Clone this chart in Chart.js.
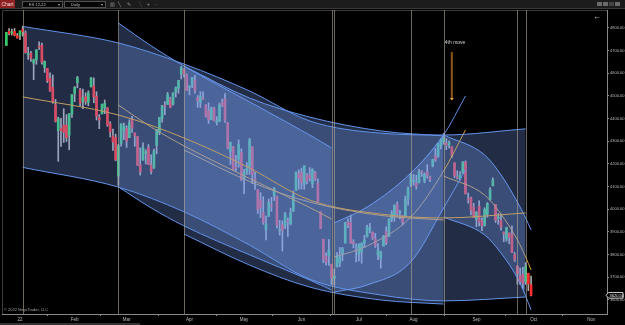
<!DOCTYPE html>
<html><head><meta charset="utf-8">
<script src="https://cdn.jsdelivr.net/npm/chart.js@4.4.0/dist/chart.umd.min.js"></script>
<style>
html,body{margin:0;padding:0;background:#000;width:625px;height:325px;overflow:hidden;font-family:"Liberation Sans","DejaVu Sans",Arial,sans-serif;}
#c{position:absolute;left:0;top:0;}
#tb{position:absolute;left:0;top:0;width:625px;height:9px;background:#1c1c1c;border-bottom:1px solid #3a3a3a;box-sizing:border-box;}
.tab{position:absolute;left:0;top:0;width:15px;height:8px;background:#8e2024;color:#f2d6d6;font-size:5px;line-height:8px;text-align:center;}
.dd{position:absolute;top:1px;height:5px;background:#060606;border:1px solid #505050;color:#b8b8b8;font-size:4px;line-height:5px;padding-left:6px;box-sizing:content-box;}
.dd .car{position:absolute;right:2px;top:0;font-size:4px;color:#aaa;}
.ic{position:absolute;top:1px;font-size:5px;line-height:6px;color:#9a9a9a;}
.wb{position:absolute;top:2px;width:5px;height:4px;background:#6a6a6a;}
#back{position:absolute;left:593px;top:13px;color:#e6e6e6;font-size:8px;line-height:8px;}
#scr{position:absolute;left:0;top:323px;width:140px;height:2px;background:#333;}
</style></head>
<body>
<canvas id="c" width="625" height="325"></canvas>
<div id="tb">
  <div class="tab">Chart</div>
  <div class="dd" style="left:22px;width:33px">ES 12-22<span class="car">▾</span></div>
  <div class="dd" style="left:64px;width:34px">Daily<span class="car">▾</span></div>
  <span class="ic" style="left:110px">▥</span>
  <span class="ic" style="left:118px">╲</span>
  <span class="ic" style="left:127px">✎</span>
  <span class="ic" style="left:139px;color:#555">╲</span>
  <span class="ic" style="left:147px">+</span>
  <span class="ic" style="left:155px;color:#555">–</span>
  <div class="wb" style="left:597px"></div>
  <div class="wb" style="left:603px"></div>
  <div class="wb" style="left:609px;background:#444"></div>
  <div class="wb" style="left:615px"></div>
</div>
<div id="back">←</div>
<div id="scr"></div>
<script>
// ---------- DATA ----------
// trading-day index: 0 = 3 Jan 2022 (first candle 27 Dec 2021 = -5)
const opens  = [4723,4785,4778,4785,4766,
 4768,4794,4777,4683,4688,4645,4660,4718,4724,4627,4622,4578,4538,4461,4347,4356,4371,4371,4327,4421,
 4511,4559,4527,4474,4497,4472,4540,4545,4499,4404,4421,4447,4448,4377,4324,4317,4147,4290,4346,
 4358,4316,4395,4337,4321,4196,4217,4247,4273,4196,4182,4282,4339,4401,4456,4463,4488,4464,4517,4535,4596,4618,4594,
 4538,4545,4571,4493,4472,4492,4460,4435,4396,4447,4383,4388,4471,4488,4383,4253,4277,4185,4221,4251,
 4137,4165,4187,4276,4135,4087,4042,3986,3910,3969,4019,4059,4058,3906,3933,3926,3948,3936,3991,4083,4158,
 4164,4111,4152,4150,4111,4163,4116,3989,3868,3793,3795,3758,3695,3746,3763,3805,3851,3943,3943,3856,3816,
 3801,3812,3851,3878,3909,3900,3871,3799,3784,3838,3903,3881,3956,3975,4022,3986,3973,3971,4047,4108,
 4123,4115,4117,4165,4125,4166,4143,4191,4237,4235,4280,4300,4291,4284,4276,4205,4143,4136,4163,4208,4044,4051,4010,
 3956,4014,3950,3929,3979,4042,4104,4022,3961,3952,3900,3869,3896,3891,3802,3750,3707,3713,3680,3718,3667];
const highs  = [4781,4797,4795,4798,4776,
 4788,4808,4787,4715,4697,4663,4705,4739,4734,4655,4622,4602,4593,4485,4407,4401,4444,4418,4422,4506,
 4542,4587,4534,4531,4514,4523,4582,4580,4519,4418,4464,4482,4449,4387,4354,4332,4287,4377,4380,
 4369,4395,4410,4337,4321,4271,4293,4263,4286,4241,4266,4352,4406,4459,4475,4516,4495,4514,4540,4569,4631,4621,4598,
 4545,4581,4591,4502,4519,4518,4462,4470,4451,4451,4409,4469,4487,4511,4384,4297,4277,4238,4306,4267,
 4176,4206,4313,4276,4164,4087,4074,4056,3970,4045,4053,4096,4058,3952,3949,3987,3961,4005,4081,4164,4175,
 4182,4192,4158,4184,4179,4168,4134,3989,3868,3808,3867,3758,3737,3809,3832,3832,3943,3958,3975,3866,3848,
 3849,3852,3885,3930,3938,3900,3894,3849,3816,3884,3923,3958,3995,4019,4033,3996,3973,4059,4099,4160,
 4154,4150,4177,4171,4161,4197,4147,4221,4268,4290,4311,4335,4312,4302,4276,4205,4170,4166,4210,4214,4072,4054,4026,
 3990,4038,3962,4007,4030,4096,4139,4022,3981,3979,3900,3921,3896,3927,3810,3750,3741,3744,3765,3718,3705];
const lows   = [4723,4770,4769,4765,4755,
 4748,4764,4689,4661,4653,4572,4640,4706,4640,4604,4559,4520,4468,4385,4212,4277,4295,4299,4263,4405,
 4475,4536,4457,4444,4463,4457,4540,4470,4394,4356,4421,4422,4366,4319,4260,4214,4106,4279,4307,
 4273,4316,4339,4278,4193,4151,4217,4200,4197,4156,4181,4245,4329,4384,4418,4463,4449,4459,4495,4512,4575,4583,4524,
 4505,4537,4512,4450,4449,4485,4407,4379,4395,4390,4372,4388,4453,4383,4266,4198,4173,4168,4186,4126,
 4069,4154,4154,4113,4088,3982,3964,3934,3865,3969,3991,4039,3918,3886,3816,3915,3881,3931,3991,4083,4089,
 4089,4089,4112,4124,4095,4126,4032,3915,3765,3754,3753,3669,3666,3746,3747,3773,3851,3919,3850,3830,3768,
 3772,3762,3832,3878,3896,3867,3832,3778,3741,3838,3844,3881,3945,3947,3967,3958,3931,3971,4018,4100,
 4106,4089,4117,4145,4117,4138,4122,4187,4211,4229,4266,4287,4263,4271,4228,4139,4133,4129,4157,4068,4027,3975,3964,
 3923,3927,3906,3926,3965,4042,4103,3942,3934,3908,3857,3859,3848,3809,3770,3670,3669,3650,3669,3641,3618];
const closes = [4781,4776,4783,4768,4756,
 4787,4784,4691,4686,4667,4660,4703,4716,4649,4653,4567,4523,4473,4388,4400,4347,4340,4316,4422,4506,
 4538,4581,4469,4493,4476,4514,4579,4496,4411,4394,4464,4467,4372,4341,4297,4218,4281,4377,4366,
 4300,4381,4358,4323,4195,4165,4272,4254,4198,4167,4256,4352,4406,4457,4455,4506,4450,4514,4537,4569,4626,4596,4524,
 4544,4581,4523,4479,4498,4486,4411,4395,4445,4391,4390,4461,4458,4392,4270,4295,4173,4182,4286,4130,
 4161,4181,4307,4153,4129,3997,4007,3941,3936,4030,4014,4094,3929,3907,3907,3980,3947,3985,4064,4164,4138,
 4116,4192,4124,4136,4176,4131,4033,3916,3780,3765,3820,3697,3705,3795,3790,3826,3942,3930,3851,3849,3815,
 3845,3851,3865,3923,3919,3874,3839,3821,3811,3883,3851,3957,3980,4019,3982,3987,3941,4044,4093,4150,
 4129,4101,4165,4162,4155,4150,4132,4220,4217,4290,4307,4315,4284,4294,4238,4148,4138,4151,4209,4068,4041,3996,3965,
 3987,3944,3928,4000,4026,4087,4130,3952,3966,3921,3893,3920,3876,3810,3778,3716,3680,3674,3748,3671,3620.5];
const firstDayIdx = -5;

// month ticks on the time axis
const monthTickIdx    = [0, 20, 39, 62, 82, 103, 124, 144, 167, 188, 209];
const monthTickLabels = ['22','Feb','Mar','Apr','May','Jun','Jul','Aug','Sep','Oct','Nov'];
const priceTicks = [3600,3700,3800,3900,4000,4100,4200,4300,4400,4500,4600,4700,4800];

// regression channels (x = trading-day index, values = price)
const chA_x   = [1, 36, 60, 84, 106, 132, 155, 185];
const chA_top = [4807, 4734, 4641, 4522, 4390, 4336, 4328, 4355];
const chA_mid = [4496, 4416, 4315, 4182, 4041, 3979, 3962, 3984];
const chA_bot = [4185, 4098, 3989, 3842, 3692, 3622, 3596, 3613];

const chB_x   = [36, 48, 60, 84, 106, 114];
const chB_top = [4822, 4721, 4632, 4474, 4328, 4271];
const chB_mid = [4460, 4363, 4280, 4136, 4008, 3957];
const chB_bot = [4099, 4006, 3927, 3799, 3688, 3644];

const chC_x   = [60, 84, 106, 132, 155];
const chC_top = [4632, 4491, 4407, 4346, 4324];
const chC_mid = [4262, 4123, 4032, 3973, 3953];
const chC_bot = [3891, 3754, 3657, 3600, 3582];

const chD_x   = [115, 127, 143, 155, 163];   // filled to 155, projected to 163
const chD_top = [3940, 4010, 4160, 4328, 4500];
const chD_mid = [3790, 3838, 3966, 4169, 4350];
const chD_bot = [3635, 3666, 3768, 4006, 4174];

const chE_x   = [155, 170, 176, 182, 185, 187]; // filled to 185, projected to 187
const chE_top = [4328, 4240, 4152, 4032, 3962, 3909];
const chE_mid = [4147, 4063, 3979, 3865, 3790, 3732];
const chE_bot = [3966, 3887, 3807, 3697, 3618, 3556];

const vLineIdx = [1, 36, 60, 114, 115, 143, 155, 182, 185];

const noteText = '4th move';
const noteIdx = 159.2, notePrice = 4734;
const arrowIdx = 158, arrowFrom = 4694, arrowTo = 4480;

// ---------- BUILD ----------
const xMin = -6.586, xMax = 214.78;
const yMin = 3538.2, yMax = 4879.4;
const UP = '#33c866', DOWN = '#ff2b2b', WICK = '#a8a8a8';
const FILL = 'rgba(122,162,248,0.28)';
const EDGE = '#5e90e8', MIDC = '#dc9c2c';

const dayIdx = opens.map((_, i) => i + firstDayIdx);
const datasets = [];

function pts(xs, ys, n){ const out=[]; for(let i=0;i<(n||xs.length);i++) out.push({x:xs[i], y:ys[i]}); return out; }

function addChannel(xs, top, mid, bot, fillCount){
  const base = datasets.length;
  datasets.push({type:'line', data:pts(xs, top, fillCount), borderWidth:0, borderColor:'rgba(0,0,0,0)', pointRadius:0,
    cubicInterpolationMode:'monotone', fill:{target: base+1, above:FILL, below:FILL}, backgroundColor:FILL, order:0});
  datasets.push({type:'line', data:pts(xs, bot, fillCount), borderWidth:0, borderColor:'rgba(0,0,0,0)', pointRadius:0,
    cubicInterpolationMode:'monotone', fill:false, order:0});
  [[top,EDGE],[mid,MIDC],[bot,EDGE]].forEach(([arr,col])=>{
    datasets.push({type:'line', data:pts(xs, arr), borderColor:col, borderWidth:1, pointRadius:0,
      cubicInterpolationMode:'monotone', fill:false, order:0});
  });
}
addChannel(chA_x, chA_top, chA_mid, chA_bot, chA_x.length);
addChannel(chB_x, chB_top, chB_mid, chB_bot, chB_x.length);
addChannel(chC_x, chC_top, chC_mid, chC_bot, chC_x.length);
addChannel(chD_x, chD_top, chD_mid, chD_bot, 4);
addChannel(chE_x, chE_top, chE_mid, chE_bot, 5);

// candles (drawn underneath the channel fills)
datasets.push({type:'bar', data: dayIdx.map((d,i)=>({x:d, y:[lows[i], highs[i]]})),
  backgroundColor:WICK, barThickness:1, grouped:false, order:20});
datasets.push({type:'bar', data: dayIdx.map((d,i)=>({x:d, y:[opens[i], closes[i]]})),
  backgroundColor: closes.map((c,i)=> c>=opens[i] ? UP : DOWN), barThickness:2, minBarLength:1, grouped:false, order:10});

const deco = {
  id:'deco',
  beforeDatasetsDraw(chart){
    const {ctx, chartArea:a} = chart;
    ctx.save();
    ctx.strokeStyle = '#3c3c3c'; ctx.lineWidth = 1;
    ctx.beginPath(); ctx.moveTo(a.left+0.5, a.bottom); ctx.lineTo(a.left+0.5, a.top+0.5); ctx.lineTo(a.right, a.top+0.5); ctx.stroke();
    ctx.restore();
  },
  afterDatasetsDraw(chart){
    const {ctx, chartArea:a, scales:{x,y}} = chart;
    ctx.save();
    ctx.strokeStyle = 'rgba(178,168,150,0.6)'; ctx.lineWidth = 1;
    vLineIdx.forEach(v=>{
      const px = Math.round(x.getPixelForValue(v)) + 0.5;
      ctx.beginPath(); ctx.moveTo(px, a.top); ctx.lineTo(px, a.bottom); ctx.stroke();
    });
    // arrow
    const ax = x.getPixelForValue(arrowIdx), y1 = y.getPixelForValue(arrowFrom), y2 = y.getPixelForValue(arrowTo);
    ctx.strokeStyle = '#8c5716'; ctx.lineWidth = 2;
    ctx.beginPath(); ctx.moveTo(ax, y1); ctx.lineTo(ax, y2-2); ctx.stroke();
    ctx.fillStyle = '#eba53a';
    ctx.beginPath(); ctx.moveTo(ax-2, y2-2.5); ctx.lineTo(ax+2, y2-2.5); ctx.lineTo(ax, y2); ctx.closePath(); ctx.fill();
    // note
    ctx.fillStyle = '#d4d4d4'; ctx.font = '5px "Liberation Sans", sans-serif';
    ctx.textAlign = 'center'; ctx.textBaseline = 'middle';
    ctx.fillText(noteText, x.getPixelForValue(noteIdx), y.getPixelForValue(notePrice));
    // copyright
    ctx.fillStyle = '#a0a0a0'; ctx.font = '4px "Liberation Sans", sans-serif'; ctx.textAlign = 'left';
    ctx.fillText('© 2022 NinjaTrader, LLC', a.left + 2, a.bottom - 4);
    ctx.restore();
  },
  afterDraw(chart){
    const {ctx, chartArea:a, scales:{y}} = chart;
    const last = closes[closes.length-1];
    const py = y.getPixelForValue(last);
    ctx.save();
    ctx.fillStyle = '#000'; ctx.strokeStyle = '#cfcfcf'; ctx.lineWidth = 1;
    const l = a.right - 1, r = 623, h = 2.8;
    ctx.beginPath(); ctx.moveTo(l, py); ctx.lineTo(l+2.5, py-h); ctx.lineTo(r, py-h); ctx.lineTo(r, py+h); ctx.lineTo(l+2.5, py+h); ctx.closePath();
    ctx.fill(); ctx.stroke();
    ctx.fillStyle = '#e8e8e8'; ctx.font = '4px "Liberation Sans", sans-serif'; ctx.textAlign='left'; ctx.textBaseline='middle';
    ctx.fillText(last.toFixed(2), l+3.5, py+0.3);
    ctx.restore();
  }
};

new Chart(document.getElementById('c'), {
  type:'line',
  data:{datasets},
  options:{
    responsive:false, animation:false, devicePixelRatio:1,
    layout:{padding:{left:2, top:10, right:0, bottom:0}},
    plugins:{legend:{display:false}, tooltip:{enabled:false}},
    scales:{
      x:{type:'linear', min:xMin, max:xMax, offset:false,
        afterBuildTicks: s => { s.ticks = monthTickIdx.map(v=>({value:v})); },
        afterFit: s => { s.height = 11; },
        ticks:{autoSkip:false, maxRotation:0, padding:1, color:'#bdbdbd',
          font:{size:4.5, family:'"Liberation Sans", sans-serif'},
          callback: v => { const k = monthTickIdx.indexOf(v); return k>=0 ? monthTickLabels[k] : ''; }},
        grid:{drawOnChartArea:false, tickLength:2, color:'#8a8a8a'},
        border:{color:'#8a8a8a'}
      },
      y:{type:'linear', position:'right', min:yMin, max:yMax, beginAtZero:false,
        afterBuildTicks: s => { s.ticks = priceTicks.map(v=>({value:v})); },
        afterFit: s => { s.width = 18; },
        ticks:{padding:1, color:'#bdbdbd', font:{size:4, family:'"Liberation Sans", sans-serif'},
          callback: v => Number(v).toFixed(2)},
        grid:{drawOnChartArea:false, tickLength:2, color:'#8a8a8a'},
        border:{color:'#8a8a8a'}
      }
    }
  },
  plugins:[deco]
});
</script>
</body></html>
